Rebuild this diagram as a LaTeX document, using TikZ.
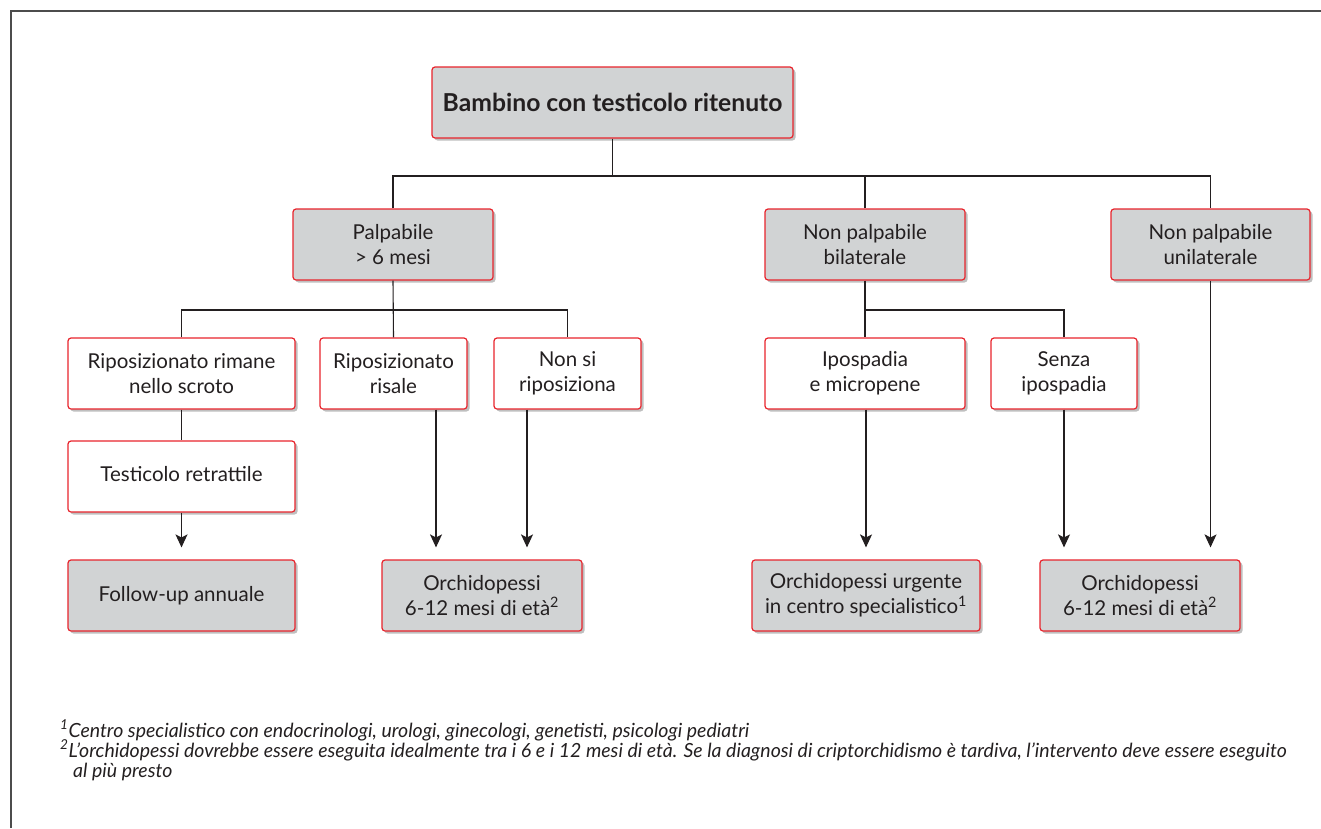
\documentclass[tikz,border=0pt]{standalone}
\usepackage{fontspec}
\setmainfont{Lato}
\usetikzlibrary{arrows.meta,shadows,calc}
\definecolor{boxred}{HTML}{E8242C}
\definecolor{boxgray}{HTML}{D1D3D4}
\definecolor{ink}{HTML}{231F20}
\tikzset{
  box/.style={draw=boxred, line width=1.2pt, rounded corners=3pt, align=center,
    inner sep=2pt, text=ink, font=\fontsize{20.5}{25}\selectfont,
    drop shadow={shadow xshift=2.5pt, shadow yshift=-2.5pt, fill=black, opacity=0.25}},
  graybox/.style={box, fill=boxgray},
  whitebox/.style={box, fill=white},
  conn/.style={draw=ink, line width=1.1pt},
  arr/.style={conn, -{Stealth[length=13pt,width=12pt,inset=3pt]}, shorten >=12pt},
  note/.style={anchor=base west, inner sep=0pt, text=ink, font=\fontsize{19.5}{20}\selectfont\itshape}
}
\begin{document}
\begin{tikzpicture}[x=1pt,y=-1pt]
\useasboundingbox (0,0) rectangle (1321,828);
% frame
\draw[line width=1.5pt, draw=black!70] (11,828) -- (11,11) -- (1321,11);

% nodes
\node[graybox, minimum width=361pt, minimum height=71pt, font=\fontsize{24.7}{25}\selectfont\bfseries] (top) at (612.5,102.5) {Bambino con testicolo ritenuto};

\node[graybox, minimum width=200pt, minimum height=71pt] (pal) at (393,244.5) {Palpabile\\> 6 mesi};
\node[graybox, minimum width=200pt, minimum height=71pt] (npb) at (865,244.5) {Non palpabile\\bilaterale};
\node[graybox, minimum width=199pt, minimum height=71pt] (npu) at (1210.5,244.5) {Non palpabile\\unilaterale};

\node[whitebox, minimum width=227pt, minimum height=71pt] (r1) at (181.5,373.5) {Riposizionato rimane\\nello scroto};
\node[whitebox, minimum width=147pt, minimum height=71pt] (r2) at (393.5,373.5) {Riposizionato\\risale};
\node[whitebox, minimum width=147pt, minimum height=71pt] (r3) at (567.5,373.5) {Non si\\riposiziona};
\node[whitebox, minimum width=200pt, minimum height=71pt] (ip) at (865,373.5) {Ipospadia\\e micropene};
\node[whitebox, minimum width=146pt, minimum height=71pt] (se) at (1064,373.5) {Senza\\ipospadia};

\node[whitebox, minimum width=227pt, minimum height=71pt] (tr) at (181.5,476.5) {\raisebox{5pt}{Testicolo retrattile}};

\node[graybox, minimum width=227pt, minimum height=71pt] (fu) at (181.5,595.5) {Follow-up annuale};
\node[graybox, minimum width=200pt, minimum height=71pt] (o1) at (482,595.5) {Orchidopessi\\6-12 mesi di età\textsuperscript{2}};
\node[graybox, minimum width=228pt, minimum height=71pt] (ou) at (866,595.5) {Orchidopessi urgente\\in centro specialistico\textsuperscript{1}};
\node[graybox, minimum width=200pt, minimum height=71pt] (o2) at (1140,595.5) {Orchidopessi\\6-12 mesi di età\textsuperscript{2}};

\coordinate (h1) at (612.5,176);
\coordinate (h2) at (393,310);

% level 1 -> 2
\draw[conn] (top.south) -- (h1);
\draw[conn] (pal.north) -- (pal.north |- h1) -- (npu.north |- h1) -- (npu.north);
\draw[conn] (npb.north) -- (npb.north |- h1);

% level 2 -> 3
\draw[conn] (pal.south) -- (r2.north);
\draw[conn] (r1.north) -- (r1.north |- h2) -- (r3.north |- h2) -- (r3.north);
\draw[conn] (npb.south) -- (ip.north);
\draw[conn] (ip.north |- h2) -- (se.north |- h2) -- (se.north);

\draw[conn] (r1.south) -- (tr.north);

% arrows
\draw[arr] (tr.south) -- (fu.north);
\draw[arr] ([xshift=42.5pt]r2.south) -- ([xshift=42.5pt]r2.south |- o1.north);
\draw[arr] ([xshift=-40.5pt]r3.south) -- ([xshift=-40.5pt]r3.south |- o1.north);
\draw[arr] (ip.south -| ou.north) -- (ou.north);
\draw[arr] (se.south) -- (se.south |- o2.north);
\draw[arr] (npu.south) -- (npu.south |- o2.north);

% footnotes
\node[note] (n1) at (60,737) {\textsuperscript{1}Centro specialistico con endocrinologi, urologi, ginecologi, genetisti, psicologi pediatri};
\node[note] (n2) at (60,757) {\textsuperscript{2}L’orchidopessi dovrebbe essere eseguita idealmente tra i 6 e i 12 mesi di età. Se la diagnosi di criptorchidismo è tardiva, l’intervento deve essere eseguito};
\node[note] (n3) at (73,777) {al più presto};
\end{tikzpicture}
\end{document}
